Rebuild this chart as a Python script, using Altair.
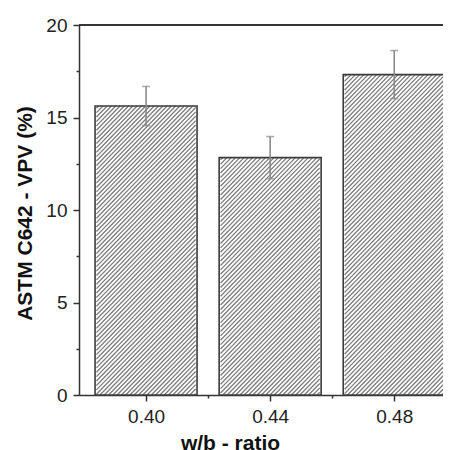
import altair as alt
import pandas as pd

# ---- data ----
wb_ratio = [0.40, 0.44, 0.48]
vpv_mean = [15.62, 12.83, 17.32]
vpv_err = [1.06, 1.14, 1.30]

x_ticks = [0.40, 0.42, 0.44, 0.46, 0.48]
y_ticks = [0, 2.5, 5, 7.5, 10, 12.5, 15, 17.5, 20]

# ---- layout parameters ----
W, H = 364, 370
XDOM = [0.38, 0.38 + 364 / 3190]
YDOM = [0, 20]
BAR_PX = 102
HATCH_STEP = 4.4

px_x = W / (XDOM[1] - XDOM[0])
px_y = H / (YDOM[1] - YDOM[0])

bars = pd.DataFrame({"wb": wb_ratio, "vpv": vpv_mean, "err": vpv_err})
bars["lo"] = bars["vpv"] - bars["err"]
bars["hi"] = bars["vpv"] + bars["err"]

# hatch segments ("/" lines) derived from the bar values through the scale ratios
rows = []
for c, v in zip(wb_ratio, vpv_mean):
    left = c - (BAR_PX / 2) / px_x
    bw = BAR_PX
    bh = v * px_y
    d = -bh + HATCH_STEP / 2
    while d < bw:
        w0 = max(0.0, -d)
        w1 = min(bh, bw - d)
        if w1 > w0:
            rows.append({
                "x": left + (w0 + d) / px_x, "y": w0 / px_y,
                "x2": left + (w1 + d) / px_x, "y2": w1 / px_y,
            })
        d += HATCH_STEP
hatch = pd.DataFrame(rows)

xscale = alt.Scale(domain=XDOM, nice=False, zero=False)
yscale = alt.Scale(domain=YDOM, nice=False)

MAJ_X = "round(datum.value*100) % 4 === 0"
MAJ_Y = "datum.value % 5 === 0"

xaxis = alt.Axis(
    title="w/b - ratio", values=x_ticks,
    labelExpr=f"{MAJ_X} ? format(datum.value, '.2f') : ''",
    tickSize={"condition": {"test": MAJ_X, "value": 6}, "value": 3},
    labelFontSize=19, labelFont="Liberation Sans", labelColor="#222", labelPadding=6,
    titleFontSize=21, titleFont="Liberation Sans", titleFontWeight="bold", titleColor="#111",
    titleX=151, titleY=54, titleBaseline="alphabetic", titleAnchor="start", titleAlign="center",
    domainColor="#333", domainWidth=1.5, tickColor="#333", tickWidth=1.5, grid=False,
)
yaxis = alt.Axis(
    title="ASTM C642 - VPV (%)", values=y_ticks,
    labelExpr=f"{MAJ_Y} ? datum.value : ''",
    tickSize={"condition": {"test": MAJ_Y, "value": 6}, "value": 3},
    labelFontSize=19, labelFont="Liberation Sans", labelColor="#222", labelPadding=6,
    titleFontSize=21, titleFont="Liberation Sans", titleFontWeight="bold", titleColor="#111",
    titleX=-54, titleY=188, titleAngle=270, titleBaseline="middle", titleAlign="center",
    titleAnchor="start",
    domainColor="#333", domainWidth=1.5, tickColor="#333", tickWidth=1.5, grid=False,
)

base = alt.Chart(bars)

bg = base.mark_bar(size=BAR_PX, fill="white").encode(
    x=alt.X("wb:Q", scale=xscale, axis=xaxis),
    y=alt.Y("vpv:Q", scale=yscale, axis=yaxis),
)

hatch_layer = alt.Chart(hatch).mark_rule(color="#7c7c7c", strokeWidth=1.3).encode(
    x=alt.X("x:Q", scale=xscale),
    y=alt.Y("y:Q", scale=yscale),
    x2="x2:Q",
    y2="y2:Q",
)

outline = base.mark_bar(size=BAR_PX, fillOpacity=0, stroke="#3a3a3a", strokeWidth=1.6).encode(
    x=alt.X("wb:Q", scale=xscale),
    y=alt.Y("vpv:Q", scale=yscale),
)

err_line = base.mark_rule(color="#8a8a8a", strokeWidth=1.6).encode(
    x=alt.X("wb:Q", scale=xscale),
    y=alt.Y("lo:Q", scale=yscale),
    y2="hi:Q",
)
cap_lo = base.mark_tick(orient="horizontal", size=8, thickness=1.6, color="#8a8a8a").encode(
    x=alt.X("wb:Q", scale=xscale),
    y=alt.Y("lo:Q", scale=yscale),
)
cap_hi = base.mark_tick(orient="horizontal", size=8, thickness=1.6, color="#8a8a8a").encode(
    x=alt.X("wb:Q", scale=xscale),
    y=alt.Y("hi:Q", scale=yscale),
)

top_frame = alt.Chart(bars).mark_rule(color="#333", strokeWidth=1.5).encode(
    y=alt.Y(datum=YDOM[1], type="quantitative", scale=yscale),
)

chart = alt.layer(bg, hatch_layer, outline, err_line, cap_lo, cap_hi, top_frame).properties(
    width=W, height=H,
    autosize=alt.AutoSizeParams(type="none"),
    padding={"left": 71, "top": 17, "right": 0, "bottom": 55},
).configure_view(stroke=None).configure(background="white")

chart.save("out.html", embed_options={"renderer": "svg", "actions": False})
